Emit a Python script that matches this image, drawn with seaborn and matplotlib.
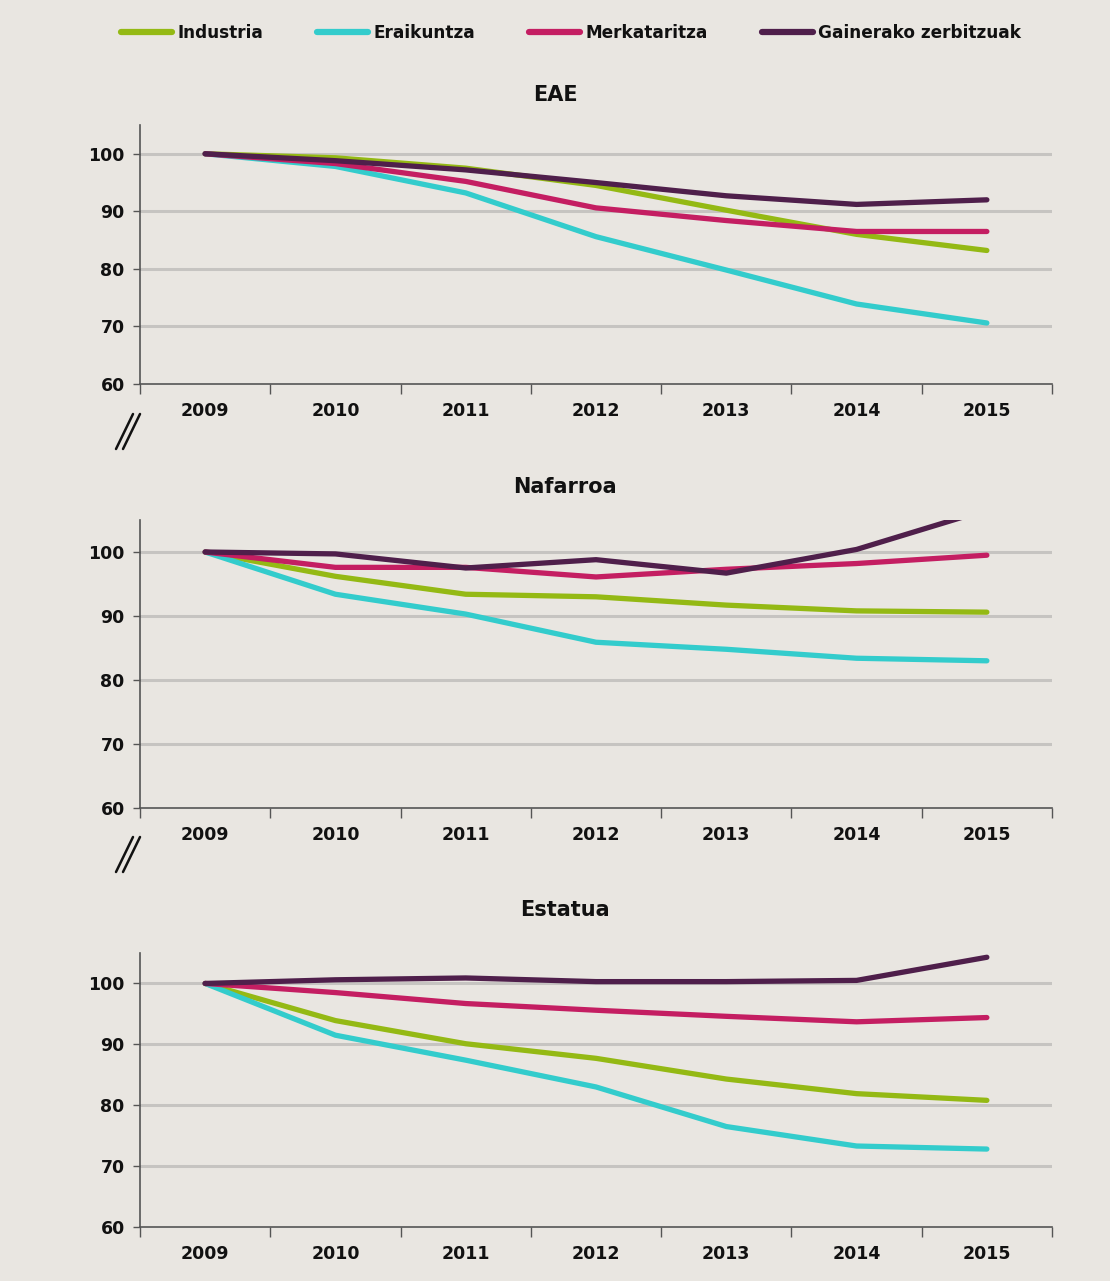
import matplotlib
matplotlib.use("Agg")
import matplotlib.pyplot as plt
from matplotlib.lines import Line2D
import seaborn as sns
import pandas as pd

years = [2009, 2010, 2011, 2012, 2013, 2014, 2015]
series_names = ["Industria", "Eraikuntza", "Merkataritza", "Gainerako zerbitzuak"]
panel_titles = ["EAE", "Nafarroa", "Estatua"]

eae_industria = [100, 99.3, 97.5, 94.5, 90.2, 86.0, 83.2]
eae_eraikuntza = [100, 97.8, 93.2, 85.6, 79.8, 73.9, 70.6]
eae_merkataritza = [100, 98.3, 95.2, 90.6, 88.4, 86.5, 86.5]
eae_gainerako = [100, 98.8, 97.2, 95.0, 92.7, 91.2, 92.0]

naf_industria = [100, 96.2, 93.4, 93.0, 91.7, 90.8, 90.6]
naf_eraikuntza = [100, 93.4, 90.3, 85.9, 84.8, 83.4, 83.0]
naf_merkataritza = [100, 97.6, 97.6, 96.1, 97.3, 98.2, 99.5]
naf_gainerako = [100, 99.7, 97.5, 98.8, 96.7, 100.4, 106.6]

est_industria = [100, 93.9, 90.1, 87.7, 84.3, 81.9, 80.8]
est_eraikuntza = [100, 91.5, 87.4, 83.0, 76.5, 73.3, 72.8]
est_merkataritza = [100, 98.5, 96.7, 95.6, 94.6, 93.7, 94.4]
est_gainerako = [100, 100.6, 100.9, 100.3, 100.3, 100.5, 104.3]

y_ticks = [60, 70, 80, 90, 100]

panels = [
    [eae_industria, eae_eraikuntza, eae_merkataritza, eae_gainerako],
    [naf_industria, naf_eraikuntza, naf_merkataritza, naf_gainerako],
    [est_industria, est_eraikuntza, est_merkataritza, est_gainerako],
]

colors = ["#94b914", "#33cccc", "#c41e62", "#4f1f4b"]
bg = "#e9e6e1"

sns.set_theme(style="white")
plt.rcParams["font.family"] = ["DejaVu Sans"]

fig = plt.figure(figsize=(11.10, 12.81), dpi=100)
fig.patch.set_facecolor(bg)

W, H = 1110, 1281
axes_px = [(125, 384), (520, 808), (953, 1227)]
title_px = [(555, 95), (565, 487), (565, 910)]

for i, (vals, (top, bot)) in enumerate(zip(panels, axes_px)):
    ax = fig.add_axes([140 / W, 1 - bot / H, 912 / W, (bot - top) / H])
    ax.set_facecolor(bg)
    rows = []
    for name, v in zip(series_names, vals):
        for yr, val in zip(years, v):
            rows.append({"year": yr, "value": val, "serie": name})
    df = pd.DataFrame(rows)
    for y in y_ticks[1:]:
        ax.axhline(y, color="#c6c4c1", lw=2.2, zorder=0)
    sns.lineplot(data=df, x="year", y="value", hue="serie", hue_order=series_names,
                 palette=colors, lw=3.8, ax=ax, legend=False, zorder=3,
                 solid_capstyle="round")
    ax.set_xlim(2008.5, 2015.5)
    ax.set_ylim(60, 105)
    ax.set_yticks(y_ticks)
    ax.set_yticklabels([str(t) for t in y_ticks], fontsize=12.5, fontweight="bold", color="#111111")
    ax.set_xticks(years)
    ax.set_xticklabels([str(y) for y in years], fontsize=12.5, fontweight="bold", color="#111111")
    ax.set_xticks([y + 0.5 for y in [2008] + years], minor=True)
    ax.tick_params(axis="x", which="major", length=0, pad=13)
    ax.tick_params(axis="x", which="minor", length=7, width=1, color="#555555", direction="out", bottom=True)
    ax.tick_params(axis="y", which="major", length=5, width=1, color="#555555", direction="out", left=True, pad=6)
    ax.set_xlabel("")
    ax.set_ylabel("")
    for s in ["top", "right"]:
        ax.spines[s].set_visible(False)
    for s in ["left", "bottom"]:
        ax.spines[s].set_color("#555555")
        ax.spines[s].set_linewidth(1.2)
    tx, ty = title_px[i]
    fig.text(tx / W, 1 - ty / H, panel_titles[i], ha="center", va="center",
             fontsize=15, fontweight="bold", color="#111111")

# axis-break marks
for y0 in [449, 872]:
    for dx in [0, 7]:
        x1, y1 = 116 + dx, y0
        x2, y2 = 133 + dx, y0 - 35
        fig.add_artist(Line2D([x1 / W, x2 / W], [1 - y1 / H, 1 - y2 / H],
                              color="#111111", lw=1.8, transform=fig.transFigure))

handles = [Line2D([0], [0], color=c, lw=4.5, solid_capstyle="round") for c in colors]
leg = fig.legend(handles, series_names, loc="center", bbox_to_anchor=(571 / W, 1 - 33 / H),
                 ncol=4, frameon=False, handlelength=3.0, handletextpad=0.3,
                 columnspacing=3.2, prop={"size": 12.2, "weight": "bold"})
for t in leg.get_texts():
    t.set_color("#111111")

fig.savefig("out.png", dpi=100, facecolor=bg)
